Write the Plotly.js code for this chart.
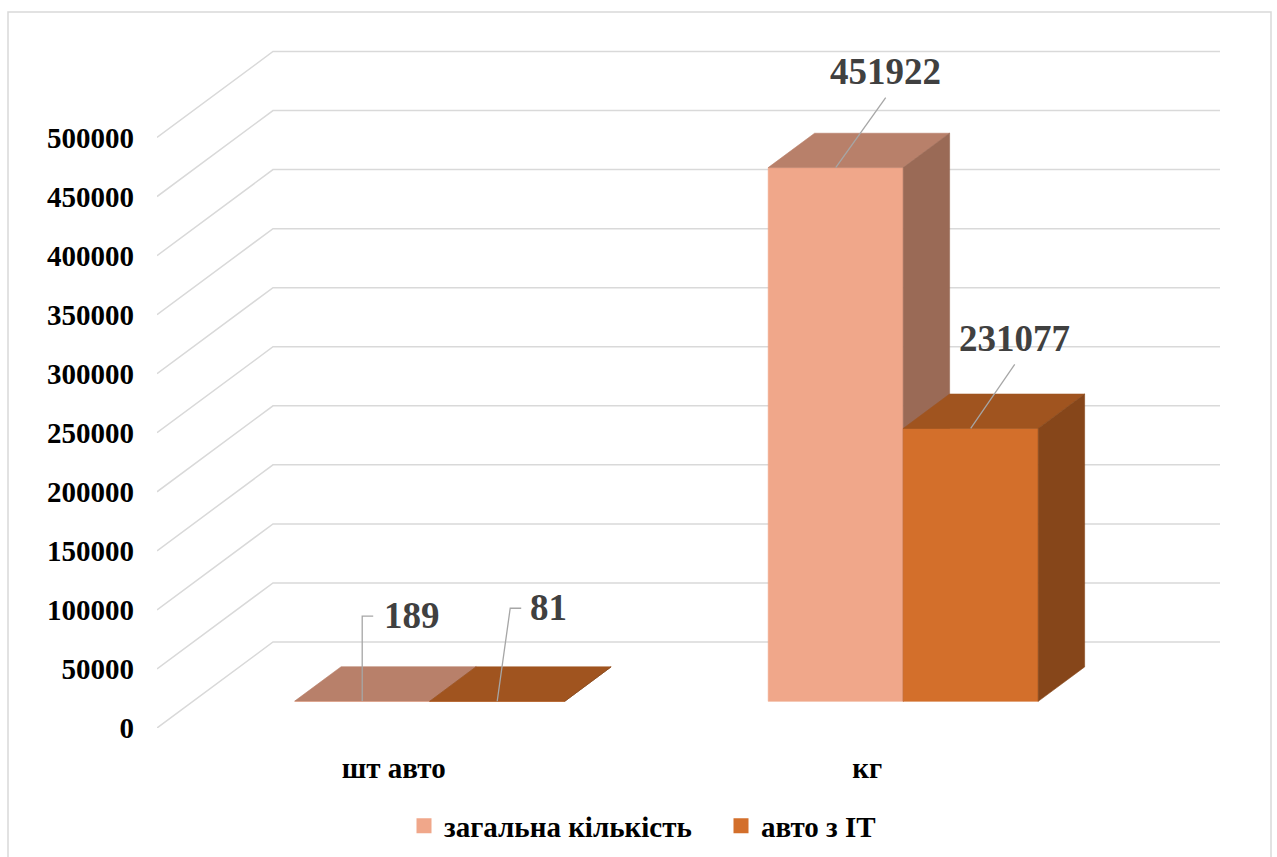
<!DOCTYPE html>
<html><head><meta charset="utf-8">
<script src="https://cdn.plot.ly/plotly-3.0.1.min.js"></script>
<style>html,body{margin:0;padding:0;background:#fff;} #chart{width:1277px;height:857px;}</style>
</head><body><div id="chart"></div>
<script>
// ---- data ----
const categories = ['шт авто', 'кг'];
const seriesNames = ['загальна кількість', 'авто з ІТ'];
const totalValues = [189, 451922];
const itValues = [81, 231077];
const tickValues = [0, 50000, 100000, 150000, 200000, 250000, 300000, 350000, 400000, 450000, 500000];
const tickLabels = ['0', '50000', '100000', '150000', '200000', '250000', '300000', '350000', '400000', '450000', '500000'];
const seriesValues = [totalValues, itValues];

// ---- style / geometry ----
const W = 1277, H = 857;
const M = {l: 157, r: 57, t: 45, b: 129, autoexpand: false};
const plotW = W - M.l - M.r, plotH = H - M.t - M.b;
const PX_PER_CAT = 473.5;
const PX_PER_VAL = 590.5 / 500000;
const xMax = plotW / PX_PER_CAT, yMax = plotH / PX_PER_VAL;
const ux = px => px / PX_PER_CAT;
const uy = px => px / PX_PER_VAL;
const DEPTH = {dx: 116, dy: 86};
const BAR_FRONT = 0.31, BAR_BACK = 0.71, BAR_W = 135;
const FONT = 'Liberation Serif';
const b = s => '<b>' + s + '</b>';
const colors = [
  {front: '#F0A78A', top: '#B8806A', side: '#9A6A56'},
  {front: '#D36F2B', top: '#A0541F', side: '#86461A'}
];
const leaders = [
  [{path: [[0,0],[0,-85],[11,-85]], lx: 20, ly: -86, anchor: 'left'},
   {path: [[0,0],[13,-93],[24,-93]], lx: 31, ly: -94, anchor: 'left'}],
  [{path: [[0,0],[50,-70]], lx: 50, ly: -96, anchor: 'center'},
   {path: [[0,0],[44,-64]], lx: 44, ly: -90, anchor: 'center'}]
];

const traces = [];
// back wall + side gridlines
const gx = [], gy = [];
const dX = ux(DEPTH.dx), dY = uy(DEPTH.dy);
tickValues.forEach(v => {
  gx.push(0, dX, xMax, null);
  gy.push(v, v + dY, v + dY, null);
});
traces.push({type: 'scatter', mode: 'lines', x: gx, y: gy, line: {color: '#D9D9D9', width: 1.5},
  hoverinfo: 'skip', showlegend: false});

const annotations = [];
const fx = ux(DEPTH.dx * BAR_FRONT), fy = uy(DEPTH.dy * BAR_FRONT);
const bx = ux(DEPTH.dx * BAR_BACK), by = uy(DEPTH.dy * BAR_BACK);
function face(xs, ys, color) {
  traces.push({type: 'scatter', mode: 'lines', x: xs.concat([xs[0]]), y: ys.concat([ys[0]]),
    fill: 'toself', fillcolor: color, line: {color: color, width: 0.6},
    hoverinfo: 'skip', showlegend: false});
}
categories.forEach((c, i) => {
  seriesValues.forEach((vals, j) => {
    const v = vals[i];
    const x0 = i + 0.5 - ux(BAR_W) + j * ux(BAR_W), x1 = x0 + ux(BAR_W);
    const col = colors[j];
    face([x0 + fx, x1 + fx, x1 + fx, x0 + fx], [fy, fy, v + fy, v + fy], col.front);
    face([x0 + fx, x1 + fx, x1 + bx, x0 + bx], [v + fy, v + fy, v + by, v + by], col.top);
    face([x1 + fx, x1 + bx, x1 + bx, x1 + fx], [fy, by, v + by, v + fy], col.side);
    // leader line + label
    const ax = (x0 + x1) / 2 + fx, ay = v + fy;
    const L = leaders[i][j];
    traces.push({type: 'scatter', mode: 'lines',
      x: L.path.map(p => ax + ux(p[0])), y: L.path.map(p => ay - uy(p[1])),
      line: {color: '#A6A6A6', width: 1.3}, hoverinfo: 'skip', showlegend: false});
    annotations.push({x: ax, y: ay, xref: 'x', yref: 'y', text: b(String(v)), showarrow: false,
      xshift: L.lx, yshift: -L.ly, xanchor: L.anchor, yanchor: 'middle',
      font: {family: FONT, size: 37, color: '#404040'}});
  });
});
// legend entries
seriesNames.forEach((n, j) => {
  traces.push({type: 'scatter', mode: 'markers', x: [null], y: [null], name: b(n),
    marker: {symbol: 'square', size: 15, color: colors[j].front}, hoverinfo: 'skip'});
});

const pxToPaperX = px => (px - M.l) / plotW;
const pxToPaperY = py => (H - M.b - py) / plotH;

const layout = {
  width: W, height: H, margin: M,
  paper_bgcolor: '#ffffff', plot_bgcolor: 'rgba(0,0,0,0)',
  hovermode: false,
  xaxis: {range: [0, xMax], tickvals: [0.5, 1.5], ticktext: categories.map(b), showgrid: false, zeroline: false,
    showline: false, ticks: '', ticklabelstandoff: 20, fixedrange: true,
    tickfont: {family: FONT, size: 29, color: '#000000'}},
  yaxis: {range: [0, yMax], tickvals: tickValues, ticktext: tickLabels.map(b), showgrid: false, zeroline: false,
    showline: false, ticks: '', ticklabelstandoff: 22, fixedrange: true,
    tickfont: {family: FONT, size: 29, color: '#000000'}},
  showlegend: true,
  legend: {orientation: 'h', x: pxToPaperX(404), xanchor: 'left', y: pxToPaperY(826), yanchor: 'middle',
    entrywidth: 272,
    font: {family: FONT, size: 29, color: '#000000'}, itemclick: false, itemdoubleclick: false},
  annotations: annotations,
  shapes: [{type: 'rect', xref: 'paper', yref: 'paper', x0: pxToPaperX(8), x1: pxToPaperX(1271),
    y0: pxToPaperY(870), y1: pxToPaperY(12), line: {color: '#D9D9D9', width: 1.5}, layer: 'below'}]
};
Plotly.newPlot('chart', traces, layout, {displayModeBar: false, staticPlot: true});
</script></body></html>
